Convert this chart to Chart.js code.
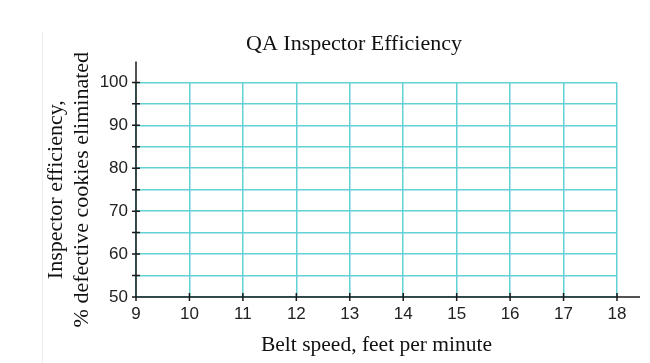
<!DOCTYPE html>
<html>
<head>
<meta charset="utf-8">
<title>QA Inspector Efficiency</title>
<script src="https://cdn.jsdelivr.net/npm/chart.js@4.4.1/dist/chart.umd.min.js"></script>
<style>
  body { margin: 0; background: #fff; }
  #wrap { position: relative; width: 650px; height: 363px; }
  #edge { position: absolute; left: 42px; top: 32px; width: 1px; height: 331px; background: #ececec; }
  canvas { position: absolute; left: 0; top: 0; }
</style>
</head>
<body>
<div id="wrap">
  <div id="edge"></div>
  <canvas id="chart" width="650" height="363"></canvas>
</div>
<script>
// data: belt speed ticks, efficiency ticks, and the (empty) observations
var speedTicks = [9, 10, 11, 12, 13, 14, 15, 16, 17, 18];
var efficiencyTicks = [50, 55, 60, 65, 70, 75, 80, 85, 90, 95, 100];
var efficiencyLabels = ['50', '', '60', '', '70', '', '80', '', '90', '', '100'];
var observations = [];

var gridColor = '#62d2d5';
var axisColor = '#1a1a1a';

// draw the black axes (a bit longer than the grid) and the tick marks crossing them
var axesPlugin = {
    id: 'axesPlugin',
    afterDraw: function (chart) {
        var ctx = chart.ctx;
        var xs = chart.scales.x, ys = chart.scales.y;
        var left = xs.getPixelForValue(speedTicks[0]);
        var right = xs.getPixelForValue(speedTicks[speedTicks.length - 1]);
        var bottom = ys.getPixelForValue(efficiencyTicks[0]);
        var top = ys.getPixelForValue(efficiencyTicks[efficiencyTicks.length - 1]);
        ctx.save();
        ctx.strokeStyle = axisColor;
        ctx.lineWidth = 1.5;
        ctx.beginPath();
        ctx.moveTo(left, top - 21);
        ctx.lineTo(left, bottom + 1);
        ctx.moveTo(left, bottom);
        ctx.lineTo(right + 23, bottom);
        efficiencyTicks.forEach(function (v) {
            var y = ys.getPixelForValue(v);
            ctx.moveTo(left - 4, y);
            ctx.lineTo(left + 4, y);
        });
        speedTicks.forEach(function (v) {
            var x = xs.getPixelForValue(v);
            ctx.moveTo(x, bottom - 4);
            ctx.lineTo(x, bottom + 4);
        });
        ctx.stroke();
        ctx.restore();
    }
};

var tickFont = { family: '"Liberation Sans", Arial, sans-serif', size: 17 };
var serifFont = { family: '"Liberation Serif", "Times New Roman", serif', size: 22, lineHeight: 1.2 };

var ctx = document.getElementById('chart').getContext('2d');
var myChart = new Chart(ctx, {
    type: 'scatter',
    data: {
        datasets: [{
            label: 'Efficiency',
            data: observations,
            borderColor: '#000',
            backgroundColor: '#000'
        }]
    },
    options: {
        responsive: false,
        animation: false,
        devicePixelRatio: 1,
        layout: { padding: { left: 91, right: 33, top: 0, bottom: 0 } },
        plugins: {
            legend: { display: false },
            tooltip: { enabled: false },
            title: {
                display: true,
                text: 'QA Inspector Efficiency',
                color: '#111',
                font: { family: serifFont.family, size: 22, weight: 'normal', lineHeight: 1.2 },
                padding: { top: 31, bottom: 25 }
            }
        },
        scales: {
            x: {
                type: 'linear',
                min: speedTicks[0],
                max: speedTicks[speedTicks.length - 1],
                afterBuildTicks: function (scale) {
                    scale.ticks = speedTicks.map(function (v) { return { value: v }; });
                },
                afterFit: function (scale) { scale.height = 66; },
                grid: { color: gridColor, lineWidth: 1.5, drawTicks: false },
                border: { display: false },
                ticks: { font: tickFont, color: '#222', padding: 7, maxRotation: 0, autoSkip: false },
                title: {
                    display: true,
                    text: 'Belt speed, feet per minute',
                    color: '#111',
                    font: { family: serifFont.family, size: 21.5, lineHeight: 1.2 },
                    padding: { top: 0, bottom: 5 }
                }
            },
            y: {
                type: 'linear',
                min: efficiencyTicks[0],
                max: efficiencyTicks[efficiencyTicks.length - 1],
                afterBuildTicks: function (scale) {
                    scale.ticks = efficiencyTicks.map(function (v) { return { value: v }; });
                },
                afterFit: function (scale) { scale.width = 45; },
                grid: { color: gridColor, lineWidth: 1.5, drawTicks: false },
                border: { display: false },
                ticks: {
                    font: tickFont,
                    color: '#222',
                    padding: 8,
                    autoSkip: false,
                    callback: function (value, index) { return efficiencyLabels[index]; }
                },
                title: {
                    display: true,
                    text: ['Inspector efficiency,', '% defective cookies eliminated'],
                    color: '#111',
                    font: serifFont,
                    padding: { top: -48, bottom: 0 }
                }
            }
        }
    },
    plugins: [axesPlugin]
});
</script>
</body>
</html>
